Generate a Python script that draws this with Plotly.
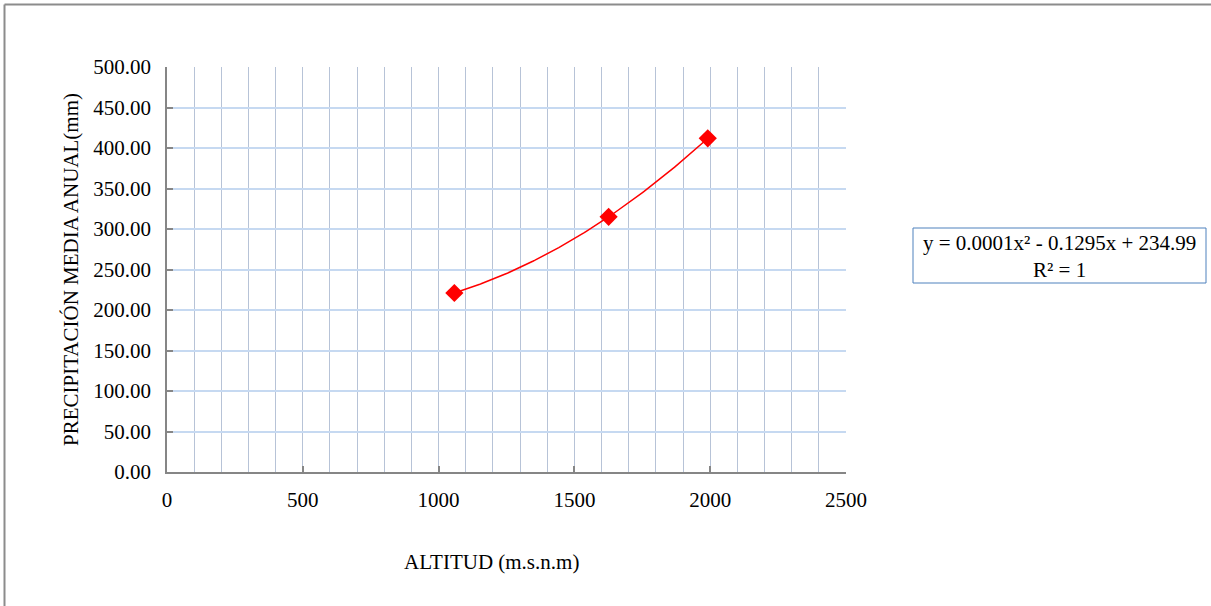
import numpy as np
import plotly.graph_objects as go

# Data
altitud = [1058, 1626, 1991]
precip = [221.0, 315.0, 412.0]
x_ticks = [0, 500, 1000, 1500, 2000, 2500]
y_ticks = [0, 50, 100, 150, 200, 250, 300, 350, 400, 450, 500]
eq_text = "y = 0.0001x² - 0.1295x + 234.99<br>R² = 1"

W, H = 1211, 606
X0, X1, Y0, Y1 = 167, 846, 67, 472  # plot area pixels


def px(x):
    return (x - X0) / (X1 - X0)


def py(y):
    return (Y1 - y) / (Y1 - Y0)


coef = np.polyfit(altitud, precip, 2)
xs = np.linspace(min(altitud), max(altitud), 200)
ys = np.polyval(coef, xs)

FONT = "Liberation Serif, Times New Roman, serif"

fig = go.Figure()
fig.add_trace(go.Scatter(x=xs, y=ys, mode="lines",
                         line=dict(color="#ff0000", width=1.5),
                         hoverinfo="skip", showlegend=False))
fig.add_trace(go.Scatter(x=altitud, y=precip, mode="markers",
                         marker=dict(symbol="diamond", size=14, color="#ff0000"),
                         showlegend=False))

fig.update_layout(
    width=W, height=H, autosize=False,
    margin=dict(l=X0, r=W - X1, t=Y0, b=H - Y1, pad=0),
    paper_bgcolor="white", plot_bgcolor="white",
    font=dict(family=FONT, size=21, color="black"),
    xaxis=dict(range=[0, 2500], tickvals=x_ticks, ticktext=[str(v) for v in x_ticks],
               showgrid=True, gridcolor="#b7c3d7", gridwidth=1,
               minor=dict(dtick=100, tick0=0, showgrid=True, gridcolor="#b7c3d7", gridwidth=1),
               showline=True, linecolor="#868686", linewidth=1.5,
               ticks="inside", ticklen=6, tickcolor="#868686", tickwidth=1.5,
               zeroline=False, mirror=False, ticklabelstandoff=8,
               tickfont=dict(family=FONT, size=21)),
    yaxis=dict(range=[0, 500], tickvals=y_ticks, ticktext=[f"{v:.2f}" for v in y_ticks],
               showgrid=True, gridcolor="#c6d9f1", gridwidth=1.5,
               showline=True, linecolor="#868686", linewidth=1.5,
               ticks="inside", ticklen=6, tickcolor="#868686", tickwidth=1.5,
               zeroline=False, ticklabelstandoff=10,
               tickfont=dict(family=FONT, size=21)),
)

# axis titles
fig.add_annotation(text="ALTITUD (m.s.n.m)", xref="paper", yref="paper",
                   x=px(491), y=py(562), showarrow=False,
                   xanchor="center", yanchor="middle", font=dict(size=21))
fig.add_annotation(text="PRECIPITACIÓN MEDIA ANUAL(mm)", xref="paper", yref="paper",
                   x=px(71), y=py(270), showarrow=False, textangle=-90,
                   xanchor="center", yanchor="middle", font=dict(size=21))

# equation box
fig.add_shape(type="rect", xref="paper", yref="paper",
              x0=px(913), x1=px(1206), y0=py(283), y1=py(228),
              line=dict(color="#4f81bd", width=1), fillcolor="white")
fig.add_annotation(text=eq_text, xref="paper", yref="paper",
                   x=px(1059.5), y=py(256), showarrow=False, align="center",
                   xanchor="center", yanchor="middle", font=dict(size=21))

# outer chart border (top and left visible)
fig.add_shape(type="line", xref="paper", yref="paper",
              x0=px(4.5), x1=px(1215), y0=py(4.5), y1=py(4.5),
              line=dict(color="#8c8c8c", width=2))
fig.add_shape(type="line", xref="paper", yref="paper",
              x0=px(4.5), x1=px(4.5), y0=py(4.5), y1=py(610),
              line=dict(color="#8c8c8c", width=2))

fig.write_html("out.html", config={"displayModeBar": False},
               post_script="document.body.style.margin='0';document.body.style.overflow='hidden';")
